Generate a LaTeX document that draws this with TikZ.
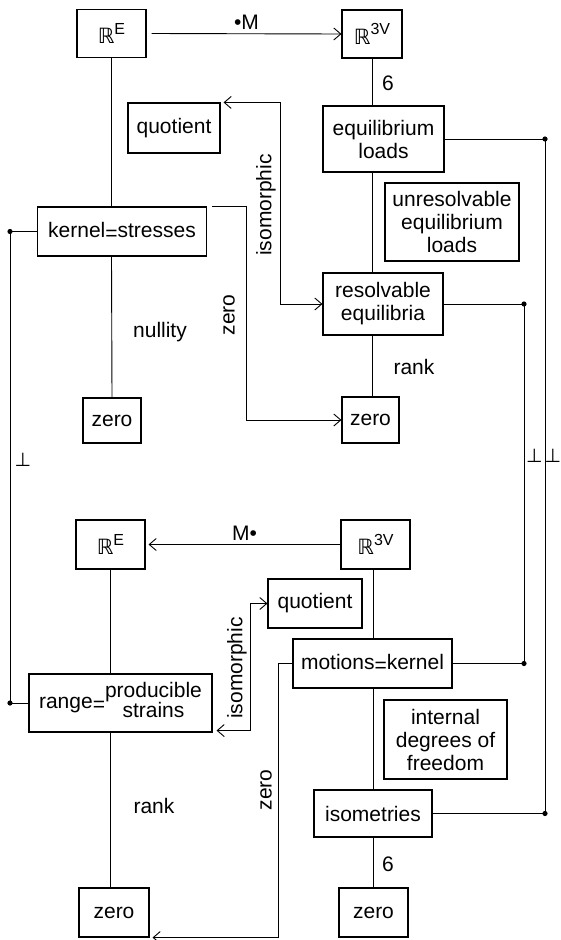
\documentclass[tikz,border=0pt]{standalone}
\usepackage{fontspec}
\setmainfont{Liberation Sans}
\newfontfamily\symfont{DejaVu Sans}
\usetikzlibrary{arrows.meta, positioning}
\tikzstyle{block}=[draw,fill=white,rectangle,line width=1.1pt,inner sep=0pt,align=center]
\tikzstyle{every node}=[font=\fontsize{21}{23}\selectfont]
\tikzstyle{perp}=[font=\symfont\fontsize{19}{19}\selectfont,inner sep=0pt]
\newcommand{\reals}[1]{{\symfont ℝ}\raisebox{0.45em}{\fontsize{16}{16}\selectfont #1}}
\newcommand{\eqs}{\raisebox{-0.15em}{=}}

\begin{document}
\begin{tikzpicture}[x=1pt,y=-1pt,line width=0.9pt,>={Straight Barb[length=7pt,width=12pt]}]
  \useasboundingbox (0,0) rectangle (560,940);
  \node[block, minimum width=69, minimum height=48] (reTop) at (111.5,33.5) {\reals{E}};
  \node[block, minimum width=60, minimum height=48] (rvTop) at (372,34) {\reals{3V}};
  \node[block, minimum width=92, minimum height=50] (quotTop) at (174,128) {quotient};
  \node[block, minimum width=121, minimum height=66] (eqLoads) at (383.5,139) {equilibrium\\loads};
  \node[block, minimum width=134, minimum height=78] (unres) at (452,222) {unresolvable\\equilibrium\\loads};
  \node[block, minimum width=169, minimum height=49] (kstress) at (122,231.5) {kernel\eqs stresses};
  \node[block, minimum width=120, minimum height=62] (resolv) at (383,304) {resolvable\\equilibria};
  \node[block, minimum width=58, minimum height=45] (zeroL1) at (112,420.5) {zero};
  \node[block, minimum width=57, minimum height=46] (zeroR1) at (370.5,420) {zero};
  \node[block, minimum width=69, minimum height=49] (reBot) at (110.5,544.5) {\reals{E}};
  \node[block, minimum width=69, minimum height=49] (rvBot) at (375.5,544.5) {\reals{3V}};
  \node[block, minimum width=94, minimum height=49] (quotBot) at (315,603.5) {quotient};
  \node[block, minimum width=159, minimum height=49] (motions) at (372.5,663.5) {motions\eqs kernel};
  \node[block, minimum width=183, minimum height=58] (range) at (120.5,703) {range\eqs\begin{tabular}{@{}c@{}}producible\\[-3pt]strains\end{tabular}};
  \node[block, minimum width=123, minimum height=79] (internal) at (445.5,739.5) {internal\hspace{30pt}\\degrees of\\freedom};
  \node[block, minimum width=118, minimum height=47] (isom) at (373,813.5) {isometries};
  \node[block, minimum width=70, minimum height=49] (zeroL2) at (114,912.5) {zero};
  \node[block, minimum width=69, minimum height=49] (zeroR2) at (373.5,912.5) {zero};

  \node (sixTop) at (388,83) {6};
  \node (sixBot) at (388,864) {6};
  \node (nullity) at (160,332) {nullity};
  \node (rankTop) at (414,367) {rank};
  \node (rankBot) at (154,806) {rank};
  \node[rotate=90] (isoTop) at (266,205) {isomorphic};
  \node[rotate=90] (isoBot) at (237,668) {isomorphic};
  \node[rotate=90] (zeroTop) at (229,315) {zero};
  \node[rotate=90] (zeroBot) at (266,790) {zero};
  \node[perp] (perpL) at (23,460) {⊥};
  \node[perp] (perpIn) at (534.5,456) {⊥};
  \node[perp] (perpOut) at (553,456) {⊥};

  \coordinate (leftTop) at (10,231.5);
  \coordinate (leftBot) at (10,703);
  \coordinate (innerTop) at (524,304);
  \coordinate (innerBot) at (524,663.5);
  \coordinate (outerTop) at (545,139);
  \coordinate (outerBot) at (545,813.5);

  \draw[->] ([xshift=5pt]reTop.east) -- node[above] {•M} (rvTop.west);
  \draw[->] (rvBot.west) -- node[above] {M•} ([xshift=3pt]reBot.east);

  \draw (reTop.south) -- (reTop.south |- kstress.north);
  \draw (reTop.south |- kstress.south) -- (zeroL1.north);
  \draw (rvTop.south) -- (rvTop.south |- eqLoads.north);
  \draw (rvTop.south |- eqLoads.south) -- (rvTop.south |- resolv.north);
  \draw (rvTop.south |- resolv.south) -- (rvTop.south |- zeroR1.north);
  \draw (reBot.south) -- (reBot.south |- range.north);
  \draw (reBot.south |- range.south) -- (reBot.south |- zeroL2.north);
  \draw (isom.north |- rvBot.south) -- (isom.north |- motions.north);
  \draw (isom.north |- motions.south) -- (isom.north);
  \draw (isom.south) -- (isom.south |- zeroR2.north);

  \draw[<->] ([xshift=3pt]quotTop.north east) -- ++(57,0) |- (resolv.west);
  \draw[<->] ([xshift=4pt,yshift=2pt]range.south east) -- ++(34,0) |- (quotBot.west);
  \draw[->] ([xshift=5pt]kstress.north east) -- ++(34,0) |- (zeroR1.west);
  \draw[->] (motions.west) -- ++(-14,0) |- ([xshift=3pt]zeroL2.south east);

  \draw (kstress.west) -- (leftTop) -- (leftBot) -- (range.west);
  \draw (resolv.east) -- (innerTop) -- (innerBot) -- (motions.east);
  \draw (eqLoads.east) -- (outerTop) -- (outerBot) -- (isom.east);
  \foreach \p in {leftTop,leftBot,innerTop,innerBot,outerTop,outerBot}
    \fill (\p) circle (2.6);
\end{tikzpicture}
\end{document}
